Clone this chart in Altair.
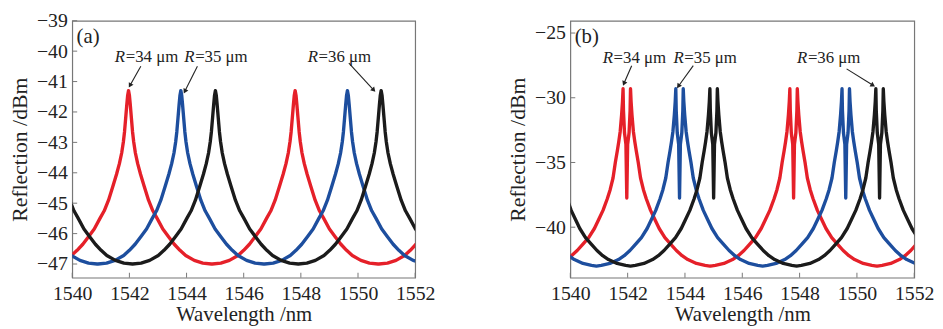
import altair as alt
import pandas as pd

# ---------------- data ----------------
series_names = ["R=34 μm", "R=35 μm", "R=36 μm"]
series_colors = ["#e52029", "#1d4e9e", "#1b1b1b"]

# panel (a): resonance peak centres (nm), incl. neighbours just outside the view
peaks_a_red = [1536.14, 1541.97, 1547.80, 1553.63]
peaks_a_blue = [1537.97, 1543.80, 1549.63, 1555.46]
peaks_a_black = [1539.21, 1545.01, 1550.81, 1556.61]
# panel (a): peak profile, distance from centre (nm) -> reflection (dBm)
prof_a_d = [0, 0.03, 0.06, 0.1, 0.14, 0.18, 0.24, 0.32, 0.42, 0.55, 0.7,
            0.85, 1.0, 1.2, 1.4, 1.6, 1.8, 2.0, 2.3, 2.6, 2.9]
prof_a_v = [-41.3, -41.45, -41.75, -42.2, -42.65, -42.98, -43.35, -43.7, -44.05,
            -44.45, -44.9, -45.25, -45.5, -45.85, -46.1, -46.35, -46.55,
            -46.72, -46.88, -46.97, -47.0]

# panel (b): split-resonance pair centres (nm)
peaks_b_red = [1536.15, 1541.97, 1547.79, 1553.61]
peaks_b_blue = [1538.01, 1543.81, 1549.61, 1555.41]
peaks_b_black = [1539.20, 1545.00, 1550.79, 1556.58]
split_half = 0.13
# outer flank, distance from each spike (nm) -> dBm
prof_b_d = [0, 0.02, 0.05, 0.1, 0.15, 0.2, 0.27, 0.35, 0.45, 0.55, 0.7,
            0.85, 1.0, 1.2, 1.4, 1.6, 1.8, 2.0, 2.3, 2.6, 2.77]
prof_b_v = [-29.3, -30.3, -31.3, -32.6, -33.4, -34.1, -35.0, -36.2, -37.1,
            -37.8, -38.7, -39.4, -40.1, -40.8, -41.3, -41.8, -42.2, -42.5,
            -42.8, -42.95, -43.0]
# inner notch between the two spikes, offset from pair centre -> dBm
notch_d = [-0.115, -0.08, -0.03, 0.0, 0.03, 0.08, 0.115]
notch_v = [-31.0, -32.7, -33.6, -37.75, -33.6, -32.7, -31.0]

x_ticks = [1540, 1542, 1544, 1546, 1548, 1550, 1552]
y_ticks_a = [-47, -46, -45, -44, -43, -42, -41, -40, -39]
y_ticks_b = [-40, -35, -30, -25]

# annotations (data units)
lab_a_x = [1541.49, 1543.92, 1548.24]
lab_a_y = [-40.19, -40.19, -40.19]
arr_a_x1 = [1542.40, 1544.38, 1549.68]
arr_a_y1 = [-40.50, -40.50, -40.39]
arr_a_x2 = [1542.02, 1543.94, 1550.55]
arr_a_y2 = [-41.13, -41.32, -41.28]
arr_a_ang = [210, 207, 138]

lab_b_x = [1541.13, 1543.60, 1547.91]
lab_b_y = [-26.95, -26.95, -26.95]
arr_b_x1 = [1542.14, 1544.29, 1549.64]
arr_b_y1 = [-27.52, -27.52, -27.77]
arr_b_x2 = [1541.87, 1543.77, 1550.56]
arr_b_y2 = [-28.90, -29.11, -29.04]
arr_b_ang = [203, 215, 122]

FONT = "Liberation Serif"
AX = "#777777"


def curve_a(name, peaks):
    rows = []
    for c in peaks:
        for d, v in zip(reversed(prof_a_d[1:]), reversed(prof_a_v[1:])):
            rows.append((c - d, v))
        rows.append((c, prof_a_v[0]))
        for d, v in zip(prof_a_d[1:], prof_a_v[1:]):
            rows.append((c + d, v))
    return [dict(series=name, wl=x, r=y) for x, y in rows if 1538.5 <= x <= 1553.5]


def curve_b(name, peaks):
    rows = []
    for c in peaks:
        for d, v in zip(reversed(prof_b_d), reversed(prof_b_v)):
            rows.append((c - split_half - d, v))
        for d, v in zip(notch_d, notch_v):
            rows.append((c + d, v))
        for d, v in zip(prof_b_d, prof_b_v):
            rows.append((c + split_half + d, v))
    return [dict(series=name, wl=x, r=y) for x, y in rows if 1538.5 <= x <= 1553.5]


def with_order(rows):
    for i, r in enumerate(rows):
        r["idx"] = i
    return rows


df_a = pd.DataFrame(with_order(curve_a(series_names[0], peaks_a_red)
                               + curve_a(series_names[1], peaks_a_blue)
                               + curve_a(series_names[2], peaks_a_black)))
df_b = pd.DataFrame(with_order(curve_b(series_names[0], peaks_b_red)
                               + curve_b(series_names[1], peaks_b_blue)
                               + curve_b(series_names[2], peaks_b_black)))


def panel(df, ydom, yticks, lab_x, lab_y, ax1, ay1, ax2, ay2, ang, tag, tag_x, tag_y, W, H):
    xs = alt.Scale(domain=[1540, 1552], nice=False, zero=False)
    ys = alt.Scale(domain=ydom, nice=False, zero=False)
    x_axis = alt.Axis(values=x_ticks, format="d", title="Wavelength /nm",
                      ticks=False, domain=False, grid=False, labelOverlap=False,
                      labelFlush=False, labelPadding=6, titlePadding=0, titleFontSize=21)
    y_axis = alt.Axis(values=yticks, format="d", title="Reflection /dBm",
                      ticks=False, domain=False, grid=False, labelOverlap=False,
                      labelFlush=False, labelPadding=5, titlePadding=5, titleFontSize=22)

    def X(f):
        return alt.X(f, scale=xs, axis=x_axis, title="Wavelength /nm")

    def Y(f):
        return alt.Y(f, scale=ys, axis=y_axis, title="Reflection /dBm")

    lines = alt.Chart(df).mark_line(clip=True, strokeWidth=3.4, strokeCap="round",
                                    strokeJoin="round").encode(
        x=X("wl:Q"), y=Y("r:Q"),
        color=alt.Color("series:N", scale=alt.Scale(domain=series_names, range=series_colors),
                        legend=None),
        order="idx:Q",
    )
    xt = alt.Chart(pd.DataFrame({"t": x_ticks})).mark_rule(color=AX, strokeWidth=1).encode(
        x=X("t:Q"), y=alt.value(H), y2=alt.value(H - 5))
    yt = alt.Chart(pd.DataFrame({"t": yticks})).mark_rule(color=AX, strokeWidth=1).encode(
        y=Y("t:Q"), x=alt.value(0), x2=alt.value(5))
    ann = pd.DataFrame({"x": lab_x, "y": lab_y, "rest": ["=34 μm", "=35 μm", "=36 μm"],
                        "R": ["R", "R", "R"], "x1": ax1, "y1": ay1, "x2": ax2, "y2": ay2,
                        "ang": ang})
    t_r = alt.Chart(ann).mark_text(font=FONT, fontSize=17, fontStyle="italic", align="left",
                                   baseline="middle", color="#222").encode(
        x=X("x:Q"), y=Y("y:Q"), text="R:N")
    t_rest = alt.Chart(ann).mark_text(font=FONT, fontSize=17, align="left", dx=11,
                                      baseline="middle", color="#222").encode(
        x=X("x:Q"), y=Y("y:Q"), text="rest:N")
    arr = alt.Chart(ann).mark_rule(color="#222", strokeWidth=1.1).encode(
        x=X("x1:Q"), y=Y("y1:Q"), x2="x2:Q", y2="y2:Q")
    head = alt.Chart(ann).mark_point(shape="triangle-up", filled=True, size=30, color="#222",
                                     opacity=1).encode(
        x=X("x2:Q"), y=Y("y2:Q"), angle=alt.Angle("ang:Q", scale=None))
    tagc = alt.Chart(pd.DataFrame({"x": [tag_x], "y": [tag_y], "t": [tag]})).mark_text(
        font=FONT, fontSize=21, align="left", baseline="middle", color="#222").encode(
        x=X("x:Q"), y=Y("y:Q"), text="t:N")
    return alt.layer(lines, xt, yt, arr, head, t_r, t_rest, tagc).properties(width=W, height=H)


pa = panel(df_a, [-47.45, -39], y_ticks_a, lab_a_x, lab_a_y, arr_a_x1, arr_a_y1, arr_a_x2,
           arr_a_y2, arr_a_ang, "(a)", 1540.15, -39.53, 347, 260)
pb = panel(df_b, [-43.9, -24.05], y_ticks_b, lab_b_x, lab_b_y, arr_b_x1, arr_b_y1, arr_b_x2,
           arr_b_y2, arr_b_ang, "(b)", 1540.15, -25.33, 348, 260)

chart = alt.hconcat(pa, pb, spacing=157, bounds="flush").properties(
    padding={"left": 0, "top": 0, "right": 0, "bottom": 0}, background="white"
).configure_view(stroke=AX, strokeWidth=1.2).configure_axis(
    labelFont=FONT, titleFont=FONT, labelFontSize=20,
    titleFontWeight="normal", labelColor="#222", titleColor="#222"
)

chart.save("out.html", embed_options={"renderer": "svg", "actions": False})
